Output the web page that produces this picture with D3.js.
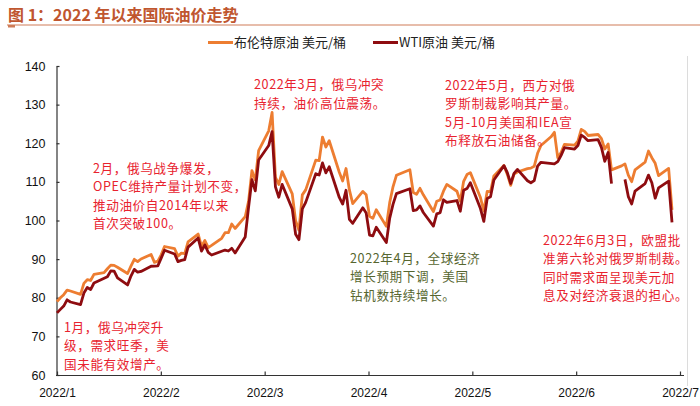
<!DOCTYPE html>
<html><head><meta charset="utf-8">
<script src="https://cdn.jsdelivr.net/npm/d3@7"></script>
<style>
html,body{margin:0;padding:0;background:#fff;}
svg{display:block;}
</style></head><body>
<svg id="chart" width="700" height="406"></svg>
<script>
// ---- data ----
const brentDates = [
 "01-03","01-04","01-05","01-06","01-07","01-10","01-11","01-12","01-13","01-14","01-17","01-18","01-19","01-20","01-21","01-24","01-25","01-26","01-27","01-28","01-31",
 "02-01","02-02","02-03","02-04","02-07","02-08","02-09","02-10","02-11","02-14","02-15","02-16","02-17","02-18","02-21","02-22","02-23","02-24","02-25","02-28",
 "03-01","03-02","03-03","03-04","03-07","03-08","03-09","03-10","03-11","03-14","03-15","03-16","03-17","03-18","03-21","03-22","03-23","03-24","03-25","03-28","03-29","03-30","03-31",
 "04-01","04-04","04-05","04-06","04-07","04-08","04-11","04-12","04-13","04-14","04-18","04-19","04-20","04-21","04-22","04-25","04-26","04-27","04-28","04-29",
 "05-02","05-03","05-04","05-05","05-06","05-09","05-10","05-11","05-12","05-13","05-16","05-17","05-18","05-19","05-20","05-23","05-24","05-25","05-26","05-27","05-30","05-31",
 "06-01","06-02","06-03","06-06","06-07","06-08","06-09","06-10","06-13","06-14","06-15","06-16","06-17","06-20","06-21","06-22","06-23","06-24","06-27","06-28","06-29","06-30",
 "07-01","07-04","07-05"];
const brentValues = [
 78.98,80.00,80.80,81.99,81.75,80.87,83.72,84.67,84.47,86.06,86.48,87.51,88.44,88.38,87.89,86.27,88.20,89.96,89.34,90.03,91.21,
 89.16,89.47,91.11,93.27,92.69,90.78,91.55,91.41,94.44,96.48,93.28,94.81,92.97,93.54,95.39,96.84,96.84,99.08,97.93,100.99,
 104.97,112.93,110.46,118.11,123.21,127.98,111.14,109.33,112.67,106.90,99.91,97.5,106.64,107.93,115.62,115.48,121.60,119.03,120.65,112.48,110.23,113.45,107.91,
 104.39,107.53,106.64,101.07,100.58,102.78,98.48,104.64,108.78,111.70,113.16,107.25,106.80,108.33,106.65,102.32,104.99,105.32,107.59,109.34,
 107.58,104.97,110.14,111.90,112.39,105.94,102.46,107.51,107.45,111.55,114.24,111.93,109.11,112.04,112.55,113.42,113.56,114.03,117.40,119.43,121.67,122.84,
 116.29,117.61,119.72,119.51,120.57,123.58,123.07,122.01,122.27,121.17,118.51,119.81,113.12,114.13,114.65,111.74,110.05,113.12,115.09,117.98,116.26,114.81,
 111.63,113.50,102.77];
const wtiDates = [
 "01-03","01-04","01-05","01-06","01-07","01-10","01-11","01-12","01-13","01-14","01-18","01-19","01-20","01-21","01-24","01-25","01-26","01-27","01-28","01-31",
 "02-01","02-02","02-03","02-04","02-07","02-08","02-09","02-10","02-11","02-14","02-15","02-16","02-17","02-18","02-22","02-23","02-24","02-25","02-28",
 "03-01","03-02","03-03","03-04","03-07","03-08","03-09","03-10","03-11","03-14","03-15","03-16","03-17","03-18","03-21","03-22","03-23","03-24","03-25","03-28","03-29","03-30","03-31",
 "04-01","04-04","04-05","04-06","04-07","04-08","04-11","04-12","04-13","04-14","04-18","04-19","04-20","04-21","04-22","04-25","04-26","04-27","04-28","04-29",
 "05-02","05-03","05-04","05-05","05-06","05-09","05-10","05-11","05-12","05-13","05-16","05-17","05-18","05-19","05-20","05-23","05-24","05-25","05-26","05-27","05-31",
 "06-01","06-02","06-03","06-06","06-07","06-08","06-09","06-10","06-13","06-14","06-15","06-16","06-17","06-20","06-21","06-22","06-23","06-24","06-27","06-28","06-29","06-30",
 "07-01","07-04","07-05"];
const wtiValues = [
 76.08,76.99,77.85,79.46,78.90,78.23,81.22,82.64,82.12,83.82,85.43,86.96,86.90,85.14,83.31,85.60,87.35,86.61,86.82,88.15,
 88.20,88.26,90.27,92.31,91.32,89.36,89.66,89.88,93.10,95.46,92.07,93.66,91.76,91.07,92.35,92.10,92.81,91.59,95.72,
 103.41,110.60,107.67,115.68,119.40,123.0,108.70,106.02,109.33,103.01,96.44,95.04,102.98,104.70,112.12,111.76,114.93,112.34,113.90,105.96,104.24,107.82,100.28,
 99.27,103.28,101.96,96.23,96.03,98.26,94.29,100.60,104.25,106.95,108.21,102.56,102.75,103.79,102.07,98.54,101.70,102.02,105.36,104.69,
 105.17,102.41,107.81,108.26,109.77,103.09,99.76,105.71,106.13,110.49,114.20,112.40,109.59,112.21,113.23,110.29,109.77,110.33,114.09,115.07,114.67,
 115.26,116.87,118.87,118.50,119.41,122.11,121.51,120.67,120.93,118.93,115.31,117.59,109.56,null,110.65,106.19,104.27,107.62,109.57,111.76,109.78,105.76,
 108.43,110.2,99.50];
const seriesNames = ["布伦特原油 美元/桶", "WTI原油 美元/桶"];
const xTickLabels = ["2022/1","2022/2","2022/3","2022/4","2022/5","2022/6","2022/7"];
const yTickValues = [60,70,80,90,100,110,120,130,140];
const titleText = "图 1：2022 年以来国际油价走势";
const notes = [
  {lines:["1月，俄乌冲突升","级，需求旺季，美","国未能有效增产。"], color:"#e8222e", x:64, y:332, lh:18.4},
  {lines:["2月，俄乌战争爆发，","OPEC维持产量计划不变，","推动油价自2014年以来","首次突破100。"], color:"#e8222e", x:93, y:173, lh:18.4},
  {lines:["2022年3月，俄乌冲突","持续，油价高位震荡。"], color:"#e8222e", x:254, y:89, lh:19},
  {lines:["2022年5月，西方对俄","罗斯制裁影响其产量。","5月-10月美国和IEA宣","布释放石油储备。"], color:"#e8222e", x:445, y:90, lh:18.4},
  {lines:["2022年4月，全球经济","增长预期下调，美国","钻机数持续增长。"], color:"#56662f", x:350, y:263, lh:18.4},
  {lines:["2022年6月3日，欧盟批","准第六轮对俄罗斯制裁。","同时需求面呈现美元加","息及对经济衰退的担心。"], color:"#e8222e", x:543, y:245, lh:18.4}
];

// ---- drawing ----
const parse = d3.timeParse("%Y-%m-%d");
const toPts = (dates, vals) => dates.map((d,i) => ({date: parse("2022-" + d), v: vals[i]}));
const brent = toPts(brentDates, brentValues);
const wti = toPts(wtiDates, wtiValues);

const svg = d3.select("#chart");
const CJK = '"Noto Sans CJK SC","Noto Sans",sans-serif';
const LAT = '"Liberation Sans",Arial,sans-serif';

const x = d3.scaleTime().domain([brent[0].date, brent[brent.length-1].date]).range([57, 672]);
const y = d3.scaleLinear().domain([60, 140]).range([375, 66]);
const xTick = d3.scalePoint().domain(xTickLabels).range([57, 680]);

// title
svg.append("text").attr("x", 8).attr("y", 21)
  .attr("font-family", CJK).attr("font-weight", "bold").attr("font-size", 16)
  .attr("fill", "#c0562f").text(titleText);
svg.append("line").attr("x1", 7).attr("x2", 700).attr("y1", 25).attr("y2", 25)
  .attr("stroke", "#cf7d58").attr("stroke-width", 1.2);
svg.append("rect").attr("x", 8).attr("y", 25).attr("width", 7).attr("height", 2.5).attr("fill", "#cf7d58");

// legend
const colors = ["#ed7d31", "#8e0c10"];
const legX = [208, 373];
seriesNames.forEach((n, i) => {
  const g = svg.append("g").attr("transform", `translate(${legX[i]},42.5)`);
  g.append("line").attr("x1", 0).attr("x2", 25).attr("stroke", colors[i]).attr("stroke-width", 3);
  g.append("text").attr("x", 26).attr("y", 4.5).attr("font-family", CJK).attr("font-size", 13)
    .attr("fill", "#222").text(n);
});

// axes
const yAxis = svg.append("g").attr("transform", "translate(56.5,0)")
  .call(d3.axisLeft(y).tickValues(yTickValues).tickSizeInner(-3).tickSizeOuter(0).tickPadding(11));
yAxis.selectAll("text").attr("font-family", LAT).attr("font-size", 12.5).attr("fill", "#111");
yAxis.selectAll("line,path").attr("stroke", "#333").attr("stroke-width", 1.2);

const xAxis = svg.append("g").attr("transform", "translate(0,375.5)")
  .call(d3.axisBottom(xTick).tickSizeInner(-4).tickSizeOuter(0).tickPadding(13));
xAxis.selectAll("text").attr("font-family", LAT).attr("font-size", 12).attr("fill", "#111");
xAxis.selectAll("line,path").attr("stroke", "#333").attr("stroke-width", 1.2);
xAxis.select(".domain").attr("d", "M56,0H684");

// lines
const line = d3.line().defined(d => d.v != null).x(d => x(d.date)).y(d => y(d.v));
[brent, wti].forEach((s, i) => {
  svg.append("path").datum(s).attr("d", line).attr("fill", "none")
    .attr("stroke", colors[i]).attr("stroke-width", 2.8).attr("stroke-linejoin", "round");
});

// annotations (one text element per line)
notes.forEach(n => {
  n.lines.forEach((l, i) => svg.append("text")
    .attr("font-family", CJK).attr("font-size", 12.6).attr("letter-spacing", 0.6).attr("fill", n.color)
    .attr("x", n.x).attr("y", n.y + i * n.lh).text(l));
});

// right frame edge
svg.append("line").attr("x1", 687.5).attr("x2", 687.5).attr("y1", 56).attr("y2", 386)
  .attr("stroke", "#dcdcdc").attr("stroke-width", 1);
</script>
</body></html>
